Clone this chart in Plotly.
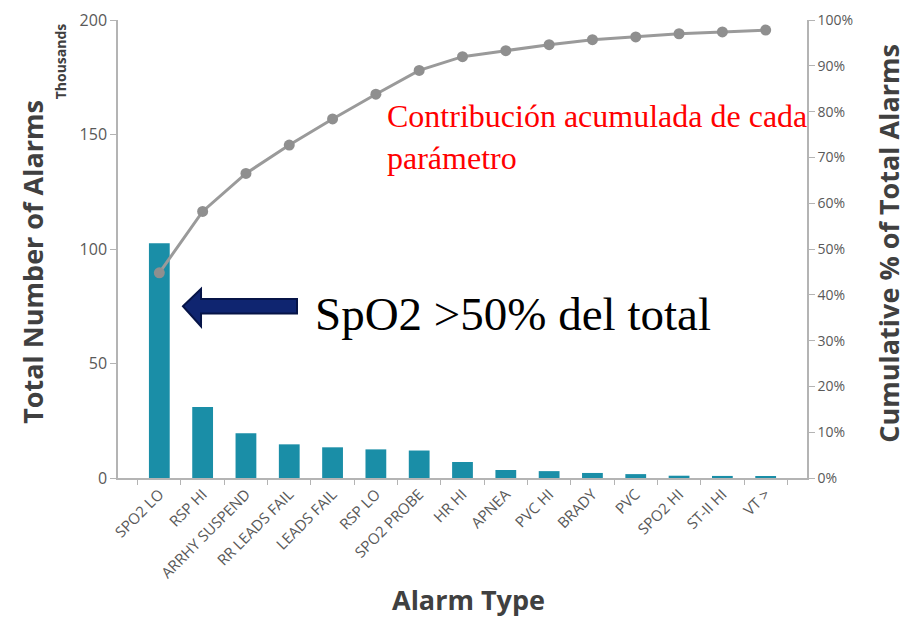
import plotly.graph_objects as go

alarm_types = ["SPO2 LO", "RSP HI", "ARRHY SUSPEND", "RR LEADS FAIL", "LEADS FAIL",
               "RSP LO", "SPO2 PROBE", "HR HI", "APNEA", "PVC HI", "BRADY", "PVC",
               "SPO2 HI", "ST-II HI", "VT >"]
alarm_counts = [102.5, 31, 19.5, 14.7, 13.4, 12.5, 12, 7, 3.5, 3, 2.2, 1.7, 1.0, 0.9, 0.8]
cumulative_pct = [44.8, 58.2, 66.5, 72.7, 78.4, 83.8, 89.0, 92.0, 93.3, 94.6, 95.7, 96.3, 97.0, 97.4, 97.8]

left_ticks = [0, 50, 100, 150, 200]
right_ticks = [0, 10, 20, 30, 40, 50, 60, 70, 80, 90, 100]
right_ticklabels = [f"{v}%" for v in right_ticks]

TITLE_FONT = dict(family="Open Sans", size=27, color="#404040")
AXIS_GREY = "#b4b4b4"

fig = go.Figure()

fig.add_trace(go.Bar(
    x=alarm_types,
    y=alarm_counts,
    marker=dict(color="#1a8ea7", line=dict(width=0)),
    width=0.48,
    showlegend=False,
))

fig.add_trace(go.Scatter(
    x=alarm_types,
    y=cumulative_pct,
    yaxis="y2",
    mode="lines+markers",
    line=dict(color="#9a9a9a", width=3),
    marker=dict(color="#8f8f8f", size=11),
    showlegend=False,
))

# block arrow pointing at the first bar
fig.add_shape(
    type="path",
    xref="paper", yref="paper",
    path=("M 0.0943 0.375 L 0.1205 0.413 L 0.1205 0.391 L 0.2598 0.391 "
          "L 0.2598 0.359 L 0.1205 0.359 L 0.1205 0.331 Z"),
    fillcolor="#0f2570",
    line=dict(color="#061447", width=2),
)

fig.add_annotation(
    text="SpO2 >50% del total", xref="paper", yref="paper",
    x=0.283, y=0.359, xanchor="left", yanchor="middle", showarrow=False,
    font=dict(family="Liberation Serif", size=47, color="#000000"),
)
fig.add_annotation(
    text="Contribución acumulada de cada<br>parámetro", xref="paper", yref="paper",
    x=0.388, y=0.745, xanchor="left", yanchor="middle", align="left", showarrow=False,
    font=dict(family="Liberation Serif", size=32, color="#ff0000"),
)

# axis titles
fig.add_annotation(
    text="<b>Total Number of Alarms</b>", xref="paper", yref="paper",
    x=-0.1234, y=0.472, textangle=-90, showarrow=False,
    xanchor="center", yanchor="middle", font=TITLE_FONT,
)
fig.add_annotation(
    text="<b>Thousands</b>", xref="paper", yref="paper",
    x=-0.084, y=0.91, textangle=-90, showarrow=False,
    xanchor="center", yanchor="middle",
    font=dict(family="Open Sans", size=14, color="#404040"),
)
fig.add_annotation(
    text="<b>Cumulative % of Total Alarms</b>", xref="paper", yref="paper",
    x=1.117, y=0.513, textangle=-90, showarrow=False,
    xanchor="center", yanchor="middle", font=TITLE_FONT,
)
fig.add_annotation(
    text="<b>Alarm Type</b>", xref="paper", yref="paper",
    x=0.509, y=-0.266, showarrow=False,
    xanchor="center", yanchor="middle", font=TITLE_FONT,
)

# the page body has an 8px margin, so the figure is drawn a little smaller
fig.update_layout(
    width=901, height=611,
    margin=dict(l=110, r=102, t=12, b=141),
    paper_bgcolor="white",
    plot_bgcolor="white",
    xaxis=dict(
        type="category",
        tickangle=-45,
        tickfont=dict(family="Open Sans", size=15, color="#595959"),
        showline=True, linecolor=AXIS_GREY, linewidth=1.5,
        ticks="outside", tickson="boundaries", ticklen=5, tickcolor=AXIS_GREY,
        showgrid=False, automargin=False,
    ),
    yaxis=dict(
        range=[0, 200], tickvals=left_ticks,
        tickfont=dict(family="Open Sans", size=16, color="#595959"),
        showline=True, linecolor=AXIS_GREY, linewidth=1.5,
        ticks="outside", ticklen=6, tickcolor=AXIS_GREY,
        showgrid=False, zeroline=False, automargin=False,
        ticklabeloverflow="allow",
    ),
    yaxis2=dict(
        overlaying="y", side="right",
        range=[0, 100], tickvals=right_ticks, ticktext=right_ticklabels,
        tickfont=dict(family="Open Sans", size=14, color="#595959"),
        showline=True, linecolor=AXIS_GREY, linewidth=1.5,
        ticks="outside", ticklen=6, tickcolor=AXIS_GREY,
        showgrid=False, zeroline=False, automargin=False,
        ticklabeloverflow="allow",
    ),
)

fig.write_html("out.html")
